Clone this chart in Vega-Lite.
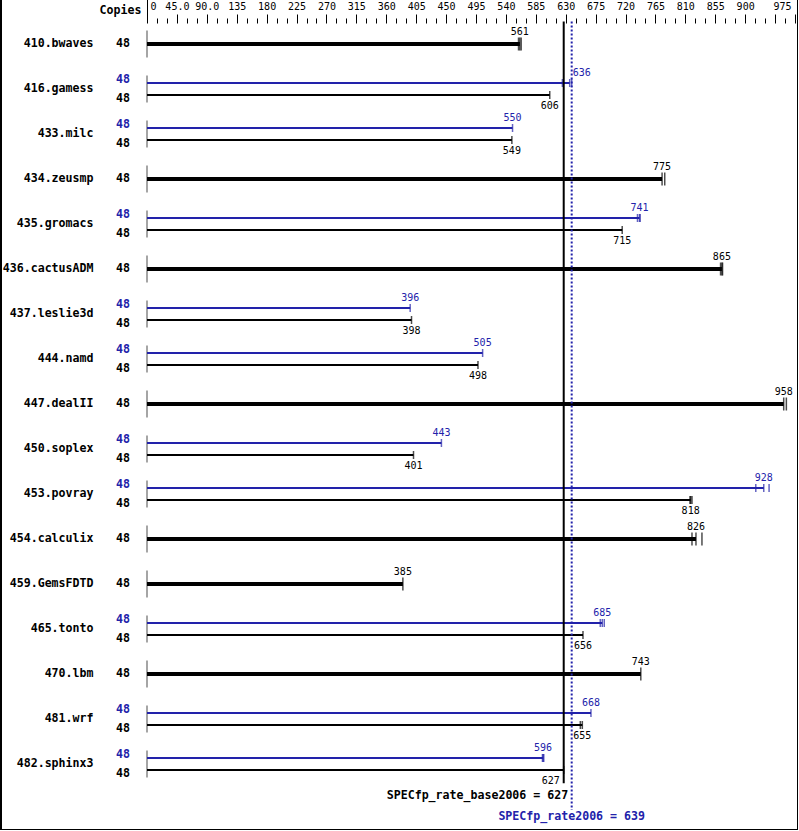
{
  "$schema": "https://vega.github.io/schema/vega-lite/v6.json",
  "width": 797,
  "height": 833,
  "autosize": {"type": "none"},
  "padding": {"left": 1, "top": -3, "right": 0, "bottom": 0},
  "background": "white",
  "config": {
    "view": {"stroke": "#000000", "strokeWidth": 2},
    "text": {"font": "DejaVu Sans Mono"}
  },
  "datasets": {
    "bars": [
      {"bench": "410.bwaves", "series": "both", "value": 561, "copies": 48},
      {"bench": "416.gamess", "series": "peak", "value": 636, "copies": 48},
      {"bench": "416.gamess", "series": "base", "value": 606, "copies": 48},
      {"bench": "433.milc", "series": "peak", "value": 550, "copies": 48},
      {"bench": "433.milc", "series": "base", "value": 549, "copies": 48},
      {"bench": "434.zeusmp", "series": "both", "value": 775, "copies": 48},
      {"bench": "435.gromacs", "series": "peak", "value": 741, "copies": 48},
      {"bench": "435.gromacs", "series": "base", "value": 715, "copies": 48},
      {"bench": "436.cactusADM", "series": "both", "value": 865, "copies": 48},
      {"bench": "437.leslie3d", "series": "peak", "value": 396, "copies": 48},
      {"bench": "437.leslie3d", "series": "base", "value": 398, "copies": 48},
      {"bench": "444.namd", "series": "peak", "value": 505, "copies": 48},
      {"bench": "444.namd", "series": "base", "value": 498, "copies": 48},
      {"bench": "447.dealII", "series": "both", "value": 958, "copies": 48},
      {"bench": "450.soplex", "series": "peak", "value": 443, "copies": 48},
      {"bench": "450.soplex", "series": "base", "value": 401, "copies": 48},
      {"bench": "453.povray", "series": "peak", "value": 928, "copies": 48},
      {"bench": "453.povray", "series": "base", "value": 818, "copies": 48},
      {"bench": "454.calculix", "series": "both", "value": 826, "copies": 48},
      {"bench": "459.GemsFDTD", "series": "both", "value": 385, "copies": 48},
      {"bench": "465.tonto", "series": "peak", "value": 685, "copies": 48},
      {"bench": "465.tonto", "series": "base", "value": 656, "copies": 48},
      {"bench": "470.lbm", "series": "both", "value": 743, "copies": 48},
      {"bench": "481.wrf", "series": "peak", "value": 668, "copies": 48},
      {"bench": "481.wrf", "series": "base", "value": 655, "copies": 48},
      {"bench": "482.sphinx3", "series": "peak", "value": 596, "copies": 48},
      {"bench": "482.sphinx3", "series": "base", "value": 627, "copies": 48}
    ],
    "runs": [
      {"bench": "410.bwaves", "series": "both", "value": 559},
      {"bench": "410.bwaves", "series": "both", "value": 561},
      {"bench": "410.bwaves", "series": "both", "value": 563},
      {"bench": "416.gamess", "series": "peak", "value": 625},
      {"bench": "416.gamess", "series": "peak", "value": 636},
      {"bench": "416.gamess", "series": "peak", "value": 639},
      {"bench": "416.gamess", "series": "base", "value": 606},
      {"bench": "433.milc", "series": "peak", "value": 550},
      {"bench": "433.milc", "series": "base", "value": 549},
      {"bench": "434.zeusmp", "series": "both", "value": 775},
      {"bench": "434.zeusmp", "series": "both", "value": 779},
      {"bench": "435.gromacs", "series": "peak", "value": 738},
      {"bench": "435.gromacs", "series": "peak", "value": 741},
      {"bench": "435.gromacs", "series": "peak", "value": 742},
      {"bench": "435.gromacs", "series": "base", "value": 715},
      {"bench": "436.cactusADM", "series": "both", "value": 863},
      {"bench": "436.cactusADM", "series": "both", "value": 865},
      {"bench": "436.cactusADM", "series": "both", "value": 866},
      {"bench": "437.leslie3d", "series": "peak", "value": 396},
      {"bench": "437.leslie3d", "series": "base", "value": 398},
      {"bench": "444.namd", "series": "peak", "value": 505},
      {"bench": "444.namd", "series": "base", "value": 498},
      {"bench": "447.dealII", "series": "both", "value": 958},
      {"bench": "447.dealII", "series": "both", "value": 962},
      {"bench": "450.soplex", "series": "peak", "value": 443},
      {"bench": "450.soplex", "series": "base", "value": 401},
      {"bench": "453.povray", "series": "peak", "value": 916},
      {"bench": "453.povray", "series": "peak", "value": 928},
      {"bench": "453.povray", "series": "peak", "value": 936},
      {"bench": "453.povray", "series": "base", "value": 817},
      {"bench": "453.povray", "series": "base", "value": 818},
      {"bench": "453.povray", "series": "base", "value": 820},
      {"bench": "454.calculix", "series": "both", "value": 820},
      {"bench": "454.calculix", "series": "both", "value": 826},
      {"bench": "454.calculix", "series": "both", "value": 835},
      {"bench": "459.GemsFDTD", "series": "both", "value": 385},
      {"bench": "465.tonto", "series": "peak", "value": 682},
      {"bench": "465.tonto", "series": "peak", "value": 685},
      {"bench": "465.tonto", "series": "peak", "value": 688},
      {"bench": "465.tonto", "series": "base", "value": 656},
      {"bench": "470.lbm", "series": "both", "value": 743},
      {"bench": "481.wrf", "series": "peak", "value": 668},
      {"bench": "481.wrf", "series": "base", "value": 652},
      {"bench": "481.wrf", "series": "base", "value": 655},
      {"bench": "482.sphinx3", "series": "peak", "value": 595},
      {"bench": "482.sphinx3", "series": "peak", "value": 596},
      {"bench": "482.sphinx3", "series": "peak", "value": 597},
      {"bench": "482.sphinx3", "series": "base", "value": 627}
    ],
    "means": [
      {"series": "base", "value": 627, "label": "SPECfp_rate_base2006 = 627"},
      {"series": "peak", "value": 639, "label": "SPECfp_rate2006 = 639"}
    ]
  },
  "encoding": {
    "x": {
      "field": "value",
      "type": "quantitative",
      "scale": {"domain": [0, 975], "range": [146, 794], "nice": false, "zero": false},
      "axis": {
        "orient": "top",
        "offset": -26,
        "domain": false,
        "grid": false,
        "values": [0,15,30,45,60,75,90,105,120,135,150,165,180,195,210,225,240,255,270,285,300,315,330,345,360,375,390,405,420,435,450,465,480,495,510,525,540,555,570,585,600,615,630,645,660,675,690,705,720,735,750,765,780,795,810,825,840,855,870,885,900,915,930,945,960,975],
        "labelExpr": "datum.value === 45 ? '45.0' : datum.value === 90 ? '90.0' : (((datum.value % 45 === 0) && datum.value !== 945) || datum.value === 975) ? datum.label : ''",
        "labelFont": "DejaVu Sans Mono",
        "labelFontSize": 10,
        "labelColor": "#000000",
        "labelPadding": {"condition": {"test": "datum.value === 0", "value": -14}, "value": 3},
        "labelOverlap": false,
        "labelFlush": false,
        "labelBound": false,
        "labelAlign": {"condition": [{"test": "datum.value === 0", "value": "left"}, {"test": "datum.value === 975", "value": "right"}], "value": "center"},
        "labelOffset": {"condition": [{"test": "datum.value === 0", "value": 3}, {"test": "datum.value === 975", "value": -4}], "value": 0},
        "tickColor": "#000000",
        "tickWidth": 1,
        "tickSize": {"condition": [{"test": "datum.value === 0", "value": 26}, {"test": "datum.value % 45 === 0 || datum.value === 975", "value": 9}], "value": 5},
        "title": "Copies",
        "titleFont": "DejaVu Sans Mono",
        "titleFontSize": 11.6,
        "titleFontWeight": "bold",
        "titleColor": "#000000",
        "titleX": 140,
        "titleY": -13,
        "titleAlign": "right",
        "titleBaseline": "middle",
        "titleAngle": 0
      }
    },
    "y": {
      "field": "bench",
      "type": "nominal",
      "sort": null,
      "scale": {
        "domain": ["410.bwaves","416.gamess","433.milc","434.zeusmp","435.gromacs","436.cactusADM","437.leslie3d","444.namd","447.dealII","450.soplex","453.povray","454.calculix","459.GemsFDTD","465.tonto","470.lbm","481.wrf","482.sphinx3"],
        "range": [24.5, 789.5],
        "paddingInner": 0,
        "paddingOuter": 0
      },
      "axis": {
        "orient": "left",
        "offset": -92,
        "domain": false,
        "ticks": false,
        "tickSize": 0,
        "grid": false,
        "labelPadding": 0,
        "labelFont": "DejaVu Sans Mono",
        "labelFontSize": 11.6,
        "labelFontWeight": "bold",
        "labelColor": "#000000",
        "labelAlign": "right",
        "labelBaseline": "middle",
        "title": null
      }
    },
    "yOffset": {"field": "series", "type": "nominal", "scale": {"type": "band", "domain": ["peak", "both", "base"], "range": [13.5, 31.5], "paddingInner": 0, "paddingOuter": 0}},
    "color": {"field": "series", "type": "nominal", "scale": {"domain": ["peak", "both", "base"], "range": ["#2222aa", "#000000", "#000000"]}, "legend": null}
  },
  "layer": [
    {
      "data": {"name": "bars"},
      "transform": [{"filter": "datum.series !== 'base'"}],
      "mark": {"type": "tick", "thickness": 1, "size": 27, "color": "#000000"},
      "encoding": {"x": {"datum": 0, "type": "quantitative"}, "yOffset": null, "color": null}
    },
    {
      "data": {"name": "bars"},
      "transform": [{"filter": "datum.series === 'both'"}],
      "mark": {"type": "rule", "strokeWidth": 4},
      "encoding": {"x2": {"datum": 0}}
    },
    {
      "data": {"name": "bars"},
      "transform": [{"filter": "datum.series !== 'both'"}],
      "mark": {"type": "rule", "strokeWidth": 2},
      "encoding": {"x2": {"datum": 0}}
    },
    {
      "data": {"name": "runs"},
      "transform": [{"filter": "datum.series === 'both'"}],
      "mark": {"type": "tick", "thickness": 1.5, "size": 13}
    },
    {
      "data": {"name": "runs"},
      "transform": [{"filter": "datum.series !== 'both'"}],
      "mark": {"type": "tick", "thickness": 1.5, "size": 8}
    },
    {
      "data": {"name": "bars"},
      "transform": [{"filter": "datum.series !== 'base'"}],
      "mark": {"type": "text", "fontSize": 10, "align": "center", "baseline": "alphabetic", "dy": {"expr": "datum.series === 'both' ? -9 : -7"}, "dx": {"expr": "abs(datum.value - 627) < 12 ? 12 : 0"}},
      "encoding": {"text": {"field": "value", "type": "quantitative"}}
    },
    {
      "data": {"name": "bars"},
      "transform": [{"filter": "datum.series === 'base'"}],
      "mark": {"type": "text", "fontSize": 10, "align": "center", "baseline": "top", "dy": 6, "dx": {"expr": "abs(datum.value - 639) < 14 ? -13 : 0"}},
      "encoding": {"text": {"field": "value", "type": "quantitative"}}
    },
    {
      "data": {"name": "bars"},
      "mark": {"type": "text", "fontSize": 11.6, "fontWeight": "bold", "align": "right", "baseline": "middle", "dx": -17, "dy": {"expr": "datum.series === 'peak' ? -3 : (datum.series === 'base' ? 3.5 : 0)"}},
      "encoding": {
        "x": {"datum": 0, "type": "quantitative"},
        "text": {"field": "copies", "type": "quantitative"}
      }
    },
    {
      "data": {"name": "means"},
      "transform": [{"filter": "datum.series === 'base'"}],
      "mark": {"type": "rule", "color": "#000000", "strokeWidth": 2},
      "encoding": {
        "y": {"datum": "410.bwaves", "bandPosition": 0},
        "y2": {"datum": "482.sphinx3", "bandPosition": 0.93},
        "yOffset": null,
        "color": null
      }
    },
    {
      "data": {"name": "means"},
      "transform": [{"filter": "datum.series === 'peak'"}],
      "mark": {"type": "rule", "color": "#2222aa", "strokeWidth": 2, "strokeDash": [2, 2]},
      "encoding": {
        "y": {"datum": "410.bwaves", "bandPosition": 0},
        "y2": {"datum": "482.sphinx3", "bandPosition": 1.52},
        "yOffset": null,
        "color": null
      }
    },
    {
      "data": {"name": "means"},
      "transform": [{"filter": "datum.series === 'base'"}],
      "mark": {"type": "text", "fontSize": 11.6, "fontWeight": "bold", "align": "right", "baseline": "middle", "dx": 4.5, "dy": 9.5, "color": "#000000"},
      "encoding": {
        "y": {"datum": "482.sphinx3", "bandPosition": 1},
        "text": {"field": "label", "type": "nominal"},
        "yOffset": null,
        "color": null
      }
    },
    {
      "data": {"name": "means"},
      "transform": [{"filter": "datum.series === 'peak'"}],
      "mark": {"type": "text", "fontSize": 11.6, "fontWeight": "bold", "align": "center", "baseline": "middle", "dy": 30.5, "color": "#2222aa"},
      "encoding": {
        "y": {"datum": "482.sphinx3", "bandPosition": 1},
        "text": {"field": "label", "type": "nominal"},
        "yOffset": null,
        "color": null
      }
    }
  ]
}
